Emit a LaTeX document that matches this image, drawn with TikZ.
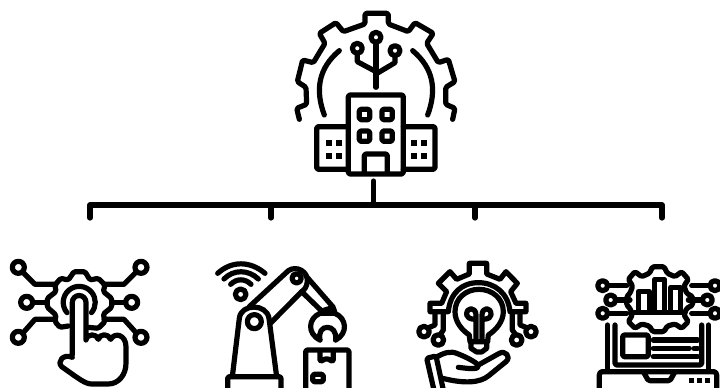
\documentclass[tikz,border=0pt]{standalone}
\usepackage{amsmath}
\usepackage{tikz}
\usetikzlibrary{positioning}
\usetikzlibrary{calc}
\tikzset{
	icon/.style={line width=0.104cm, line join=round, line cap=round},
	roundline/.style={icon, rounded corners=0.03cm},
	branch/.style={line width=0.104cm, line cap=round, line join=round}
}
\begin{document}
\begin{tikzpicture}[x=0.02cm,y=-0.02cm]
	\useasboundingbox (0,0) rectangle (720,388);
	\clip (0,0) rectangle (720,388);

	% draw connector tree
	\coordinate (hub) at (373.5,181);
	\coordinate (joint) at (373.5,205);
	\coordinate (leafA) at (90,218);
	\coordinate (leafB) at (271,218);
	\coordinate (leafC) at (475,218);
	\coordinate (leafD) at (662,218);
	\draw[branch] (hub) -- (joint);
	\draw[branch] (leafA) |- (joint) -| (leafD);
	\draw[branch] (leafB) -- (leafB |- joint);
	\draw[branch] (leafC) -- (leafC |- joint);

	% draw top icon, factory with gear
	\begin{scope}[shift={(280,0)},scale=0.3333]
		\draw[roundline] (58,358) -- (50,325) -- (80,313) -- (78,262) -- (52,245) -- (68,180) -- (100,188) -- (135,130) -- (118,100) -- (168,68) -- (190,95) -- (255,72) -- (255,40) -- (325,40) -- (325,72) -- (385,95) -- (405,68) -- (460,100) -- (440,130) -- (475,188) -- (505,178) -- (525,245) -- (497,262) -- (497,313) -- (525,325) -- (518,358);
		\draw[icon] (133,345) .. controls (105,270) and (115,205) .. (178,152);
		\draw[icon] (398,152) .. controls (461,205) and (471,270) .. (443,345);
		\draw[icon] (232,145) circle (15);
		\draw[icon] (288,112) circle (15);
		\draw[icon] (345,152) circle (15);
		\draw[icon] (288,262) -- (288,127);
		\draw[icon] (232,160) -- (232,185) -- (288,215);
		\draw[icon] (345,167) -- (345,188) -- (288,222);
		\draw[roundline] (205,285) rectangle (370,522);
		\foreach \wx in {238,306}
			\foreach \wy in {328,393}
				\draw[roundline] (\wx,\wy) rectangle ++(31,31);
		\draw[roundline] (253,520) -- (253,462) -- (322,462) -- (322,520);
		\draw[roundline] (205,380) -- (110,380) -- (110,508) -- (205,508);
		\draw[roundline] (370,380) -- (465,380) -- (465,508) -- (370,508);
		\foreach \dx in {137,168,392,423}
			\foreach \dy in {420,460}
				\fill (\dx,\dy) rectangle ++(19,18);
	\end{scope}

	% draw first icon, hand on gear
	\begin{scope}[shift={(0,250)},scale=0.3333]
		\foreach \cx/\cy in {55/52,423/52,80/157,395/157,55/262,423/262}
			\draw[icon] (\cx,\cy) circle (18);
		\draw[icon] (67,65) -- (105,103) -- (165,103);
		\draw[icon] (98,157) -- (138,157);
		\draw[icon] (68,250) -- (105,208) -- (165,208);
		\draw[icon] (410,65) -- (372,103) -- (312,103);
		\draw[icon] (377,157) -- (337,157);
		\draw[icon] (410,250) -- (372,208) -- (312,208);
		\draw[roundline] (205,228) -- (180,232) -- (165,215) -- (168,195) -- (142,172) -- (142,145) -- (168,125) -- (165,105) -- (182,85) -- (205,90) -- (222,65) -- (255,65) -- (270,90) -- (295,85) -- (315,105) -- (310,125) -- (335,145) -- (335,172) -- (310,192) -- (315,215) -- (295,235) -- (265,232);
		\draw[icon] (201,188) arc (140:400:48);
		\draw[icon, fill=white] (217,315) -- (217,157) arc (180:360:20.5) -- (258,270) .. controls (262,250) and (290,250) .. (295,268) .. controls (300,250) and (325,250) .. (332,268) .. controls (345,245) and (378,255) .. (378,290) -- (378,340) .. controls (378,375) and (355,402) .. (325,402) -- (275,402) .. controls (255,402) and (235,385) .. (185,350) .. controls (170,335) and (190,310) .. (217,322);
	\end{scope}

	% draw second icon, robot arm
	\begin{scope}[shift={(205,250)},scale=0.3333]
		\draw[icon] (107,133) circle (16);
		\draw[icon] (77,103) .. controls (95,85) and (120,85) .. (138,103);
		\draw[icon] (57,87) .. controls (85,58) and (130,58) .. (160,87);
		\draw[icon] (38,70) .. controls (80,32) and (135,32) .. (180,70);
		\draw[roundline] (68,380) rectangle (228,425);
		\draw[icon] (82,380) -- (103,205) .. controls (108,160) and (185,160) .. (192,205) -- (215,380);
		\draw[icon] (148,215) circle (21);
		\draw[icon] (133,170) -- (250,62) .. controls (275,45) and (310,65) .. (307,95) .. controls (305,110) and (300,118) .. (290,125) -- (196,220);
		\draw[icon] (275,85) circle (14);
		\draw[icon] (303,78) -- (385,172);
		\draw[icon] (290,125) -- (350,183);
		\draw[roundline] (350,183) -- (385,172) -- (390,190) -- (345,190) -- cycle;
		\draw[icon] (345,270) .. controls (305,250) and (310,205) .. (345,190) (390,190) .. controls (425,205) and (430,250) .. (392,270);
		\draw[icon] (345,270) .. controls (340,245) and (352,232) .. (367,232) .. controls (382,232) and (395,245) .. (392,270);
		\draw[roundline] (302,300) rectangle (432,425);
		\draw[roundline] (345,305) -- (345,335) -- (365,325) -- (385,335) -- (385,305);
		\draw[roundline] (323,373) rectangle (355,395);
	\end{scope}

	% draw third icon, bulb in gear over hand
	\begin{scope}[shift={(400,250)},scale=0.3333]
		\draw[icon] (90,185) -- (90,160) -- (125,160) -- (140,125) -- (115,100) -- (150,65) -- (170,88) -- (208,72) -- (208,40) -- (260,40) -- (260,72) -- (300,88) -- (318,65) -- (352,100) -- (332,125) -- (348,160) -- (378,160) -- (378,185) -- (330,185) .. controls (325,130) and (285,98) .. (235,98) .. controls (185,98) and (150,130) .. (145,185) -- cycle;
		\draw[icon] (210,275) -- (208,255) .. controls (185,240) and (165,215) .. (165,185) .. controls (165,145) and (198,118) .. (237,118) .. controls (276,118) and (310,145) .. (310,185) .. controls (310,215) and (288,240) .. (265,255) -- (263,275) -- cycle;
		\draw[icon] (213,275) -- (213,295) -- (230,306) -- (245,306) -- (260,295) -- (260,275);
		\draw[icon] (228,270) -- (228,210) .. controls (228,205) and (205,212) .. (200,195) .. controls (198,170) and (228,170) .. (228,195) -- (228,210);
		\draw[icon] (246,270) -- (246,210) .. controls (246,205) and (270,212) .. (273,195) .. controls (275,170) and (246,170) .. (246,195) -- (246,210);
		\foreach \cx/\cy in {72/245,115/270,393/245,350/270}
			\draw[icon] (\cx,\cy) circle (16);
		\draw[icon] (105,185) -- (105,225) -- (86,233);
		\draw[icon] (130,185) -- (130,240) -- (120,255);
		\draw[icon] (360,185) -- (360,225) -- (380,233);
		\draw[icon] (337,185) -- (337,240) -- (347,254);
		\draw[roundline] (130,420) -- (108,318) -- (80,325) -- (103,425);
		\draw[icon] (108,322) .. controls (130,310) and (150,300) .. (175,312) .. controls (200,322) and (225,335) .. (235,345) .. controls (237,358) and (220,358) .. (175,352);
		\draw[icon] (235,345) -- (298,310) .. controls (315,300) and (335,320) .. (318,335) -- (265,378) .. controls (240,398) and (195,402) .. (128,385);
	\end{scope}

	% draw fourth icon, laptop with gear
	\begin{scope}[shift={(580,250)},scale=0.3333]
		\draw[roundline] (218,50) -- (252,50) -- (262,70) -- (285,80) -- (305,65) -- (325,88) -- (312,108) -- (320,130) -- (338,140) -- (338,165) -- (320,175) -- (312,195) -- (325,215) -- (305,235) -- (285,222) -- (262,228) -- (252,245) -- (218,245) -- (208,228) -- (185,222) -- (165,235) -- (145,215) -- (157,195) -- (150,175) -- (140,165) -- (140,140) -- (150,130) -- (158,108) -- (145,88) -- (165,65) -- (185,80) -- (208,70) -- cycle;
		\draw[icon] (175,185) -- (175,125) -- (208,125) -- (208,185);
		\draw[icon] (224,185) -- (224,88) -- (254,88) -- (254,185);
		\draw[icon] (272,185) -- (272,112) -- (302,112) -- (302,185);
		\draw[icon] (160,187) -- (315,187);
		\foreach \cx/\cy in {68/107,92/150,68/190,405/107,382/150,405/190}
			\draw[icon] (\cx,\cy) circle (15);
		\draw[icon] (85,107) -- (140,107);
		\draw[icon] (108,150) -- (150,150);
		\draw[icon] (85,190) -- (140,190);
		\draw[icon] (335,107) -- (388,107);
		\draw[icon] (325,150) -- (365,150);
		\draw[icon] (335,190) -- (388,190);
		\draw[icon] (82,225) -- (82,362);
		\draw[icon] (385,225) -- (385,362);
		\draw[roundline] (105,225) -- (105,345) -- (365,345) -- (365,225);
		\draw[icon, rounded corners=0.06cm] (58,425) -- (58,365) -- (410,365) -- (410,425) -- cycle;
		\draw[roundline] (190,365) -- (205,392) -- (270,392) -- (285,365);
		\foreach \dx in {328,352,375}
			\fill (\dx,384) rectangle ++(15,14);
		\draw[roundline] (128,255) rectangle (205,320);
		\draw[icon] (220,270) -- (353,270);
		\draw[icon] (220,295) -- (328,295);
		\draw[icon] (342,295) -- (353,295);
		\draw[icon] (220,320) -- (353,320);
	\end{scope}
\end{tikzpicture}
\end{document}
